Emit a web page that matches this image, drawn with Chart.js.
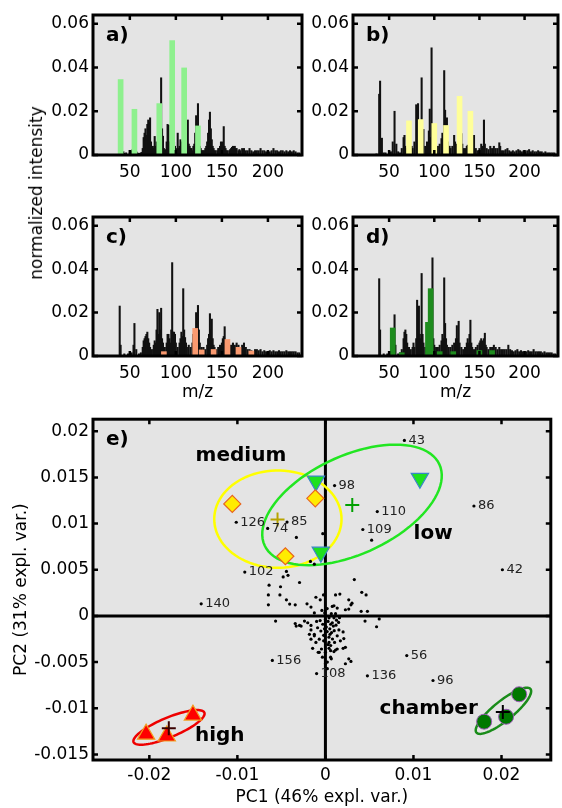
<!DOCTYPE html>
<html>
<head>
<meta charset="utf-8">
<title>Spectra and PCA</title>
<script src="https://cdn.jsdelivr.net/npm/chart.js@4.4.1/dist/chart.umd.min.js"></script>
<style>
body { margin: 0; background: #fff; }
#page { position: relative; width: 562px; height: 808px; overflow: hidden; }
canvas { position: absolute; display: block; }
#ylab { position: absolute; left: 36px; top: 193px; transform: translate(-50%, -50%) rotate(-90deg);
        font: 17px "DejaVu Sans"; color: #000; white-space: nowrap; }
</style>
</head>
<body>
<div id="page">
<canvas id="chartA" width="310" height="185" style="left:0;top:0"></canvas>
<canvas id="chartB" width="300" height="185" style="left:262px;top:0"></canvas>
<canvas id="chartC" width="310" height="205" style="left:0;top:200px"></canvas>
<canvas id="chartD" width="300" height="205" style="left:262px;top:200px"></canvas>
<canvas id="chartE" width="562" height="403" style="left:0;top:405px"></canvas>
<div id="ylab">normalized intensity</div>
</div>
<script>
// ---- spectra: m/z axis limits and ticks
var mzRange = [10, 237];
var mzTicks = [50, 100, 150, 200];
var intRange = [0, 0.064];
var intTicks = [0, 0.02, 0.04, 0.06];

// panel a) black spectrum + light green marker ions
var aMz = [41,43,44,46,50,51,52,53,54,55,
  57,58,60,62,63,64,65,66,67,68,
  69,70,71,72,73,74,75,76,77,78,
  79,80,81,82,83,84,85,86,87,88,
  89,90,91,92,93,94,95,96,97,98,
  99,100,101,102,103,104,105,106,107,108,
  109,110,111,112,113,114,115,116,117,118,
  119,120,121,122,123,124,125,126,127,128,
  129,130,131,132,133,134,135,136,137,138,
  139,140,141,142,143,145,146,147,148,149,
  150,151,152,153,154,155,156,158,159,160,
  161,162,163,164,165,166,168,169,170,172,
  173,174,176,178,180,182,184,186,188,190,
  192,194,196,198,200,202,204,206,208,210,
  212,214,216,218,220,222,224,226,228,230,
  232,234];
var aInt = [0.001,0.0015,0.0008,0.001,0.001,0.0012,0.002,0.0025,0.003,0.002,
  0.0015,0.001,0.0008,0.001,0.0012,0.003,0.008,0.01,0.012,0.009,
  0.014,0.016,0.015,0.017,0.006,0.003,0.004,0.003,0.0085,0.004,
  0.006,0.005,0.01,0.008,0.02,0.0353,0.012,0.0086,0.003,0.002,
  0.0025,0.006,0.014,0.0136,0.006,0.005,0.01,0.008,0.0098,0.006,
  0.004,0.003,0.0025,0.01,0.003,0.004,0.007,0.006,0.005,0.006,
  0.009,0.0166,0.008,0.006,0.016,0.005,0.004,0.003,0.003,0.002,
  0.004,0.005,0.01,0.018,0.012,0.0235,0.01,0.004,0.003,0.002,
  0.002,0.002,0.002,0.003,0.004,0.006,0.01,0.016,0.0196,0.012,
  0.007,0.004,0.003,0.002,0.002,0.002,0.003,0.003,0.004,0.006,
  0.005,0.006,0.013,0.004,0.003,0.002,0.002,0.002,0.0025,0.003,
  0.0035,0.004,0.003,0.004,0.003,0.003,0.002,0.0025,0.002,0.003,
  0.0025,0.003,0.002,0.002,0.003,0.002,0.0015,0.002,0.002,0.002,
  0.003,0.002,0.002,0.0015,0.002,0.0015,0.002,0.003,0.002,0.002,
  0.0015,0.002,0.002,0.0015,0.002,0.0015,0.002,0.0015,0.002,0.0015,
  0.001,0.001];
var aMarkMz = [40, 55, 82, 96, 109, 124];
var aMarkInt = [0.0345, 0.0209, 0.0235, 0.0523, 0.0398, 0.0133];

// panel b) black spectrum + yellow marker ions
var bMz = [36,39,40,42,44,46,50,52,54,56,
  58,60,62,64,66,67,68,70,72,74,
  75,76,78,80,81,82,84,86,87,88,
  90,92,94,95,96,97,98,99,100,102,
  104,106,108,109,111,112,114,115,116,117,
  118,120,122,123,124,126,128,129,130,131,
  132,134,136,137,138,140,142,144,146,148,
  150,152,153,155,156,158,160,162,164,166,
  168,170,172,173,175,177,179,181,183,185,
  187,189,191,193,195,197,199,201,203,205,
  207,209,211,213,215,217,219,221,223,225,
  227,229,231,233];
var bInt = [0.0005,0.0278,0.0338,0.0077,0.001,0.001,0.001,0.0015,0.006,0.02,
  0.005,0.0015,0.001,0.003,0.008,0.009,0.004,0.003,0.005,0.003,
  0.004,0.003,0.006,0.023,0.012,0.0235,0.008,0.0353,0.006,0.0117,
  0.004,0.006,0.011,0.021,0.008,0.049,0.012,0.009,0.005,0.003,
  0.004,0.005,0.0075,0.01,0.0386,0.0205,0.017,0.006,0.004,0.004,
  0.003,0.004,0.009,0.006,0.005,0.004,0.006,0.004,0.0098,0.005,
  0.003,0.003,0.004,0.0045,0.004,0.006,0.004,0.009,0.003,0.002,
  0.003,0.005,0.004,0.016,0.005,0.003,0.0025,0.004,0.003,0.004,
  0.003,0.003,0.0056,0.004,0.002,0.002,0.0025,0.003,0.002,0.0015,
  0.002,0.0015,0.002,0.0025,0.002,0.0015,0.002,0.0015,0.002,0.0025,
  0.0015,0.002,0.0015,0.0015,0.002,0.0015,0.0015,0.001,0.0015,0.001,
  0.001,0.001,0.001,0.001];
var bMarkMz = [72, 85, 100, 113, 128, 140];
var bMarkInt = [0.0156, 0.0162, 0.0144, 0.0135, 0.0268, 0.02];

// panel c) black spectrum + orange marker ions
var cMz = [39,40,44,48,52,54,55,57,60,62,
  64,65,66,67,68,69,70,71,72,74,
  76,77,78,79,80,81,82,83,84,85,
  86,88,90,91,92,93,94,95,96,97,
  98,99,100,102,104,105,106,107,108,109,
  110,111,112,114,116,118,119,120,121,122,
  123,124,125,126,128,130,132,134,135,136,
  137,138,139,140,141,142,144,146,148,150,
  151,152,153,154,155,156,158,160,162,164,
  165,166,168,170,172,174,176,178,180,182,
  184,186,188,190,192,194,196,198,200,202,
  204,206,208,210,212,214,216,218,220,222,
  224,226,228,230,232,234];
var cInt = [0.023,0.005,0.001,0.001,0.0015,0.005,0.015,0.003,0.001,0.0015,
  0.004,0.007,0.008,0.009,0.01,0.011,0.008,0.006,0.004,0.003,
  0.005,0.007,0.006,0.012,0.0215,0.01,0.02,0.012,0.022,0.008,
  0.006,0.004,0.006,0.01,0.01,0.008,0.006,0.012,0.043,0.011,
  0.011,0.01,0.006,0.004,0.006,0.008,0.011,0.009,0.031,0.012,
  0.0085,0.006,0.004,0.005,0.004,0.006,0.01,0.011,0.012,0.02,
  0.015,0.0233,0.012,0.006,0.004,0.004,0.003,0.005,0.008,0.01,
  0.0195,0.012,0.017,0.008,0.005,0.004,0.003,0.004,0.005,0.006,
  0.008,0.009,0.0135,0.006,0.005,0.004,0.004,0.005,0.006,0.005,
  0.004,0.006,0.005,0.004,0.005,0.006,0.004,0.003,0.003,0.0025,
  0.002,0.003,0.003,0.0025,0.003,0.002,0.0025,0.002,0.002,0.0025,
  0.002,0.0025,0.002,0.002,0.0025,0.002,0.002,0.002,0.0025,0.002,
  0.002,0.002,0.002,0.002,0.0015,0.0015];
var cMarkMz = [87, 121, 128, 141, 156, 168, 182];
var cMarkInt = [0.002, 0.0127, 0.0028, 0.003, 0.0076, 0.004, 0.0023];

// panel d) black spectrum + dark green marker ions
var dMz = [39,40,44,48,50,52,54,56,57,60,
  62,64,66,67,68,69,70,72,74,76,
  77,78,80,81,82,83,84,85,86,87,
  88,90,92,93,94,95,96,97,98,99,
  100,102,104,106,108,109,110,111,112,113,
  114,116,118,120,122,124,125,126,127,128,
  130,132,134,136,137,138,139,140,141,142,
  144,146,148,150,151,152,153,154,155,156,
  157,158,160,162,164,166,168,170,172,174,
  176,178,180,182,184,186,188,190,192,194,
  196,198,200,202,204,206,208,210,212,214,
  216,218,220,222,224,226,228,230,232,234];
var dInt = [0.0356,0.012,0.001,0.001,0.0015,0.001,0.003,0.019,0.005,0.001,
  0.0015,0.003,0.008,0.011,0.012,0.01,0.006,0.004,0.003,0.004,
  0.006,0.004,0.008,0.0257,0.012,0.023,0.01,0.008,0.038,0.01,
  0.006,0.004,0.006,0.008,0.01,0.012,0.015,0.01,0.0452,0.008,
  0.005,0.004,0.004,0.005,0.007,0.01,0.008,0.036,0.015,0.008,
  0.005,0.004,0.004,0.005,0.006,0.008,0.014,0.008,0.016,0.006,
  0.004,0.003,0.004,0.006,0.008,0.006,0.01,0.0165,0.006,0.004,
  0.003,0.004,0.005,0.006,0.007,0.008,0.006,0.007,0.008,0.0105,
  0.005,0.004,0.003,0.004,0.004,0.005,0.004,0.003,0.004,0.003,
  0.003,0.003,0.003,0.005,0.003,0.0025,0.002,0.0025,0.003,0.002,
  0.0025,0.002,0.002,0.002,0.0025,0.002,0.002,0.003,0.002,0.002,
  0.002,0.002,0.0015,0.002,0.0015,0.0015,0.0015,0.0015,0.001,0.001];
var dMarkMz = [54, 64, 93, 96, 106, 121, 150, 164];
var dMarkInt = [0.0129, 0.0015, 0.0155, 0.031, 0.002, 0.002, 0.0025, 0.0025];

// ---- PCA scores/loadings
var pc1Range = [-0.0264, 0.0256];
var pc1Ticks = [-0.02, -0.01, 0, 0.01, 0.02];
var pc2Range = [-0.0156, 0.0213];
var pc2Ticks = [-0.015, -0.01, -0.005, 0, 0.005, 0.01, 0.015, 0.02];

// unlabelled m/z loadings
var dotX = [-0.0048,-0.00443,-0.0064,-0.0051,-0.00648,-0.00517,-0.00648,-0.00443,-0.00406,-0.00343,
  -0.00294,-0.00209,-0.00164,-0.00108,-0.00059,-0.00126,-0.00022,0.00115,0.00164,0.00097,
  0.00134,0.00265,0.0029,0.00328,0.00265,0.00227,0.00413,0.00462,0.00406,0.00477,
  0.0045,-0.00566,-0.00343,-0.00276,-0.00201,-0.00164,-0.00126,-0.00164,-0.00108,-0.0007,
  -0.00052,-0.00089,-0.00045,0,0.00041,0.00052,0.00078,0.00097,0.00041,-0.00008,
  0.00067,0.00126,0.00153,0.00201,0.00134,0.00104,0.00134,0.00201,0.00265,0.0029,
  0.00067,0.00022,-0.00082,-0.00034,0.00041,-0.00145,0.00097,0.00115,-0.00332,-0.00164,
  -0.00182,-0.00126,-0.0007,0.00059,0.00115,0.00209,0.00227,0,0.00227,0.00059,
  0.00581,0.00611,0.00022,-0.00238,-0.00294,-0.0033,-0.0003,-0.0017,-0.00126,-0.00425,
  0.00078,0.00302,0.00525,0.0003,0.0006,0.0001,0.0005,0.0009,0.0012,0.0002,
  0.0007,0.001,0.0004,0.0008,-0.0002,-0.0003,-0.0006,0,0.0015,0.0003,
  -0.0002,0.0017,-0.0001,0.0006,0.0016,-0.001,-0.0004,0.0002];
var dotY = [0.00422,0.00482,0.00333,0.00316,0.00227,0.00227,0.0012,0.00174,0.00128,0.0012,
  0.00362,0.00131,0.00096,0.00202,0.00174,0.00032,0.00227,0.00227,0.00237,0.0011,
  0.00085,0.00174,0.0012,0.00394,0.00074,0.00067,0.00255,0.00227,0.0005,0.0005,
  -0.00056,-0.00056,-0.00082,-0.0011,-0.00074,-0.00152,-0.00199,-0.00252,-0.00287,-0.00252,
  -0.00163,-0.00128,-0.00358,-0.00394,-0.00287,-0.00199,-0.00074,-0.00021,-0.00021,0.00032,
  0.00024,-0.00046,-0.00152,-0.00173,-0.00216,-0.00287,-0.00358,-0.00351,-0.00465,-0.00493,
  -0.00465,-0.005,-0.00394,-0.00447,-0.00351,-0.00351,-0.00386,0.00024,-0.0011,-0.00103,
  -0.00199,-0.00216,-0.00394,-0.00376,-0.00369,-0.00245,-0.0034,-0.00518,-0.00518,-0.00447,
  -0.00117,-0.00032,-0.00571,-0.00056,-0.00103,0.0085,0.0089,0.0059,0.0056,0.0044,
  0.00103,0.00138,0.0082,-0.0006,-0.0009,-0.0012,-0.0014,-0.0011,-0.001,-0.0017,
  -0.0018,-0.0016,-0.0023,-0.0025,-0.0021,-0.0009,-0.0005,-0.0004,-0.0007,-0.0031,
  -0.0027,-0.0027,-0.0014,-0.0032,-0.0002,-0.0006,0.0006,0.0008];

// labelled m/z loadings
var lblText = ['43','98','110','109','86','42','126','74','85','102','140','156','108','136','56','96'];
var lblX = [0.00897,0.00104,0.00589,0.00425,0.01687,0.0201,-0.01013,-0.00656,-0.00436,-0.00916,-0.01411,-0.00603,-0.001,0.00477,0.00924,0.01222];
var lblY = [0.019,0.01411,0.0113,0.00936,0.0119,0.005,0.01014,0.00947,0.01016,0.00475,0.00131,-0.00482,-0.00624,-0.00649,-0.00429,-0.00699];

// sample scores per group
var medX = [-0.01058, -0.00455, -0.00115];
var medY = [0.01213, 0.00646, 0.01273];
var lowX = [-0.00108, 0.01073, -0.00052];
var lowY = [0.0146, 0.0149, 0.0069];
var highX = [-0.02037, -0.01802, -0.01505];
var highY = [-0.0128, -0.013, -0.01074];
var chamX = [0.01803, 0.02052, 0.02201];
var chamY = [-0.01145, -0.01092, -0.00848];

// group centroids (medium, low, high, chamber)
var cenX = [-0.00544, 0.00305, -0.01779, 0.02015];
var cenY = [0.01043, 0.012, -0.01216, -0.0104];

// confidence ellipses: centre and two half-axis vectors (medium, low, high, chamber)
var ellCx = [-0.0054, 0.00302, -0.01777, 0.02022];
var ellCy = [0.01048, 0.01202, -0.01207, -0.01027];
var ellAx = [0.00723, 0.00992, 0.00402, 0.00307];
var ellAy = [0, 0.0044, 0.0016, 0.00236];
var ellBx = [0, 0.00236, 0.00043, 0.0007];
var ellBy = [0.00527, -0.00482, -0.00098, -0.00083];

var tickFont = { family: 'DejaVu Sans', size: 17 };

// grey plot area, thick box with inward ticks, panel letter
var framePlugin = {
    id: 'frame',
    beforeDraw: function(chart) {
        var a = chart.chartArea, ctx = chart.ctx;
        ctx.save();
        ctx.fillStyle = '#e4e4e4';
        ctx.fillRect(a.left, a.top, a.right - a.left, a.bottom - a.top);
        ctx.restore();
    },
    afterDraw: function(chart, args, opts) {
        var a = chart.chartArea, ctx = chart.ctx;
        var sx = chart.scales.x, sy = chart.scales.y;
        ctx.save();
        ctx.strokeStyle = '#000';
        ctx.lineWidth = 2.5;
        ctx.beginPath();
        sx.ticks.forEach(function(t) {
            var p = sx.getPixelForValue(t.value);
            ctx.moveTo(p, a.bottom); ctx.lineTo(p, a.bottom - 5);
            ctx.moveTo(p, a.top); ctx.lineTo(p, a.top + 5);
        });
        sy.ticks.forEach(function(t) {
            var p = sy.getPixelForValue(t.value);
            ctx.moveTo(a.left, p); ctx.lineTo(a.left + 5, p);
            ctx.moveTo(a.right, p); ctx.lineTo(a.right - 5, p);
        });
        ctx.stroke();
        ctx.lineWidth = 3;
        ctx.strokeRect(a.left, a.top, a.right - a.left, a.bottom - a.top);
        ctx.font = 'bold 20px "DejaVu Sans"';
        ctx.fillStyle = '#000';
        ctx.textBaseline = 'middle';
        ctx.fillText(opts.tag, a.left + 13, a.top + 21);
        ctx.restore();
    }
};

function toPoints(xs, ys) {
    return xs.map(function(v, i) { return { x: v, y: ys[i] }; });
}

function fixedTicks(values) {
    return function(scale) {
        scale.ticks = values.map(function(v) { return { value: v }; });
    };
}

function spectrum(id, tag, mz, inten, markMz, markInt, markColor, showTitle, yWidth, pad, xHeight) {
    return new Chart(document.getElementById(id), {
        type: 'bar',
        data: {
            datasets: [
                {
                    label: 'marker ions',
                    data: toPoints(markMz, markInt),
                    backgroundColor: markColor,
                    barThickness: 5,
                    grouped: false,
                    order: 0
                },
                {
                    label: 'spectrum',
                    data: toPoints(mz, inten),
                    backgroundColor: '#111',
                    barThickness: 1.4,
                    grouped: false,
                    order: 1
                }]
        },
        options: {
            responsive: false,
            animation: false,
            events: [],
            layout: { padding: pad },
            plugins: {
                legend: { display: false },
                tooltip: { enabled: false },
                frame: { tag: tag }
            },
            scales: {
                x: {
                    type: 'linear',
                    min: mzRange[0], max: mzRange[1],
                    bounds: 'data',
                    offset: false,
                    afterBuildTicks: fixedTicks(mzTicks),
                    grid: { display: false, drawTicks: false, tickLength: 0 },
                    border: { display: false },
                    ticks: { autoSkip: false, maxRotation: 0, padding: 7, font: tickFont, color: '#000' },
                    title: { display: showTitle, text: 'm/z', font: tickFont, color: '#000',
                             padding: { top: 0, bottom: 2 } },
                    afterFit: function(s) { s.height = xHeight; }
                },
                y: {
                    min: intRange[0], max: intRange[1],
                    bounds: 'data',
                    afterBuildTicks: fixedTicks(intTicks),
                    grid: { display: false, drawTicks: false, tickLength: 0 },
                    border: { display: false },
                    ticks: { padding: 4, font: tickFont, color: '#000',
                             callback: function(v) { return v === 0 ? '0' : v.toFixed(2); } },
                    afterFit: function(s) { s.width = yWidth; }
                }
            }
        },
        plugins: [framePlugin]
    });
}

spectrum('chartA', 'a)', aMz, aInt, aMarkMz, aMarkInt, '#8ef08e', false, 93, { left: 0, top: 15, right: 8, bottom: 0 }, 30);
spectrum('chartB', 'b)', bMz, bInt, bMarkMz, bMarkInt, '#ffff99', false, 91, { left: 0, top: 15, right: 4, bottom: 0 }, 30);
spectrum('chartC', 'c)', cMz, cInt, cMarkMz, cMarkInt, '#fa9a70', true, 93, { left: 0, top: 17, right: 8, bottom: 0 }, 49);
spectrum('chartD', 'd)', dMz, dInt, dMarkMz, dMarkInt, '#1e8c1e', true, 91, { left: 0, top: 17, right: 4, bottom: 0 }, 49);

// zero axes, ellipses, loading labels, group names
var pcaPlugin = {
    id: 'pca',
    beforeDatasetsDraw: function(chart, args, opts) {
        var ctx = chart.ctx, a = chart.chartArea;
        var sx = chart.scales.x, sy = chart.scales.y;
        ctx.save();
        ctx.strokeStyle = '#000';
        ctx.lineWidth = 3;
        ctx.beginPath();
        var x0 = sx.getPixelForValue(0), y0 = sy.getPixelForValue(0);
        ctx.moveTo(x0, a.top); ctx.lineTo(x0, a.bottom);
        ctx.moveTo(a.left, y0); ctx.lineTo(a.right, y0);
        ctx.stroke();

        ctx.lineWidth = 2.5;
        ellCx.forEach(function(cx, k) {
            ctx.strokeStyle = opts.ellColors[k];
            ctx.beginPath();
            for (var s = 0; s <= 90; s++) {
                var t = s / 90 * 2 * Math.PI;
                var px = sx.getPixelForValue(cx + ellAx[k] * Math.cos(t) + ellBx[k] * Math.sin(t));
                var py = sy.getPixelForValue(ellCy[k] + ellAy[k] * Math.cos(t) + ellBy[k] * Math.sin(t));
                if (s === 0) ctx.moveTo(px, py); else ctx.lineTo(px, py);
            }
            ctx.closePath();
            ctx.stroke();
        });
        ctx.restore();
    },
    afterDatasetsDraw: function(chart, args, opts) {
        var ctx = chart.ctx;
        var sx = chart.scales.x, sy = chart.scales.y;
        ctx.save();
        ctx.fillStyle = '#222';
        ctx.font = '13px "DejaVu Sans"';
        ctx.textBaseline = 'middle';
        ctx.textAlign = 'left';
        lblText.forEach(function(txt, i) {
            ctx.fillText(txt, sx.getPixelForValue(lblX[i]) + 4, sy.getPixelForValue(lblY[i]));
        });
        ctx.fillStyle = '#000';
        ctx.font = 'bold 20px "DejaVu Sans"';
        ctx.textAlign = 'center';
        opts.groups.forEach(function(g) {
            ctx.fillText(g.text, sx.getPixelForValue(g.x), sy.getPixelForValue(g.y));
        });
        ctx.restore();
    }
};

new Chart(document.getElementById('chartE'), {
    type: 'scatter',
    data: {
        datasets: [
            {
                label: 'centroids',
                data: toPoints(cenX, cenY),
                pointStyle: 'cross',
                pointRadius: 7,
                pointBorderWidth: 2,
                pointBorderColor: ['#b8a400', '#00a000', '#3a0000', '#000'],
                order: 0
            },
            {
                label: 'medium',
                data: toPoints(medX, medY),
                pointStyle: 'rectRot',
                pointRadius: 8.5,
                pointBackgroundColor: '#ffec00',
                pointBorderColor: '#e8641e',
                pointBorderWidth: 1.2,
                order: 1
            },
            {
                label: 'low',
                data: toPoints(lowX, lowY),
                pointStyle: 'triangle',
                pointRotation: 180,
                pointRadius: 10,
                pointBackgroundColor: '#1ee01e',
                pointBorderColor: '#3a86c8',
                pointBorderWidth: 1.2,
                order: 1
            },
            {
                label: 'high',
                data: toPoints(highX, highY),
                pointStyle: 'triangle',
                pointRadius: 10,
                pointBackgroundColor: '#ff0000',
                pointBorderColor: '#f2a020',
                pointBorderWidth: 1.2,
                order: 1
            },
            {
                label: 'chamber',
                data: toPoints(chamX, chamY),
                pointStyle: 'circle',
                pointRadius: 7.5,
                pointBackgroundColor: '#007800',
                pointBorderColor: '#9b59b6',
                pointBorderWidth: 1,
                order: 1
            },
            {
                label: 'labelled m/z',
                data: toPoints(lblX, lblY),
                pointRadius: 1.6,
                pointBackgroundColor: '#000',
                pointBorderWidth: 0,
                order: 2
            },
            {
                label: 'm/z',
                data: toPoints(dotX, dotY),
                pointRadius: 1.6,
                pointBackgroundColor: '#000',
                pointBorderWidth: 0,
                order: 2
            }]
    },
    options: {
        responsive: false,
        animation: false,
        events: [],
        layout: { padding: { left: 0, top: 12, right: 4, bottom: 0 } },
        plugins: {
            legend: { display: false },
            tooltip: { enabled: false },
            frame: { tag: 'e)' },
            pca: {
                ellColors: ['#ffff00', '#22e622', '#ee0000', '#1a8c1a'],
                groups: [
                    { text: 'medium', x: -0.0096, y: 0.0173 },
                    { text: 'low', x: 0.01223, y: 0.00888 },
                    { text: 'high', x: -0.012, y: -0.01303 },
                    { text: 'chamber', x: 0.01173, y: -0.01005 }]
            }
        },
        scales: {
            x: {
                type: 'linear',
                min: pc1Range[0], max: pc1Range[1],
                bounds: 'data',
                afterBuildTicks: fixedTicks(pc1Ticks),
                grid: { display: false, drawTicks: false, tickLength: 0 },
                border: { display: false },
                ticks: { autoSkip: false, maxRotation: 0, padding: 5, font: tickFont, color: '#000',
                         callback: function(v) { return String(+v.toFixed(4)); } },
                title: { display: true, text: 'PC1 (46% expl. var.)', font: tickFont, color: '#000',
                         padding: { top: 0, bottom: 0 } },
                afterFit: function(s) { s.height = 48; }
            },
            y: {
                type: 'linear',
                min: pc2Range[0], max: pc2Range[1],
                bounds: 'data',
                afterBuildTicks: fixedTicks(pc2Ticks),
                grid: { display: false, drawTicks: false, tickLength: 0 },
                border: { display: false },
                ticks: { padding: 4, font: tickFont, color: '#000',
                         callback: function(v) { return String(+v.toFixed(4)); } },
                title: { display: true, text: 'PC2 (31% expl. var.)', font: tickFont, color: '#000',
                         padding: { top: 11, bottom: 0 } },
                afterFit: function(s) { s.width = 93; }
            }
        }
    },
    plugins: [framePlugin, pcaPlugin]
});
</script>
</body>
</html>
